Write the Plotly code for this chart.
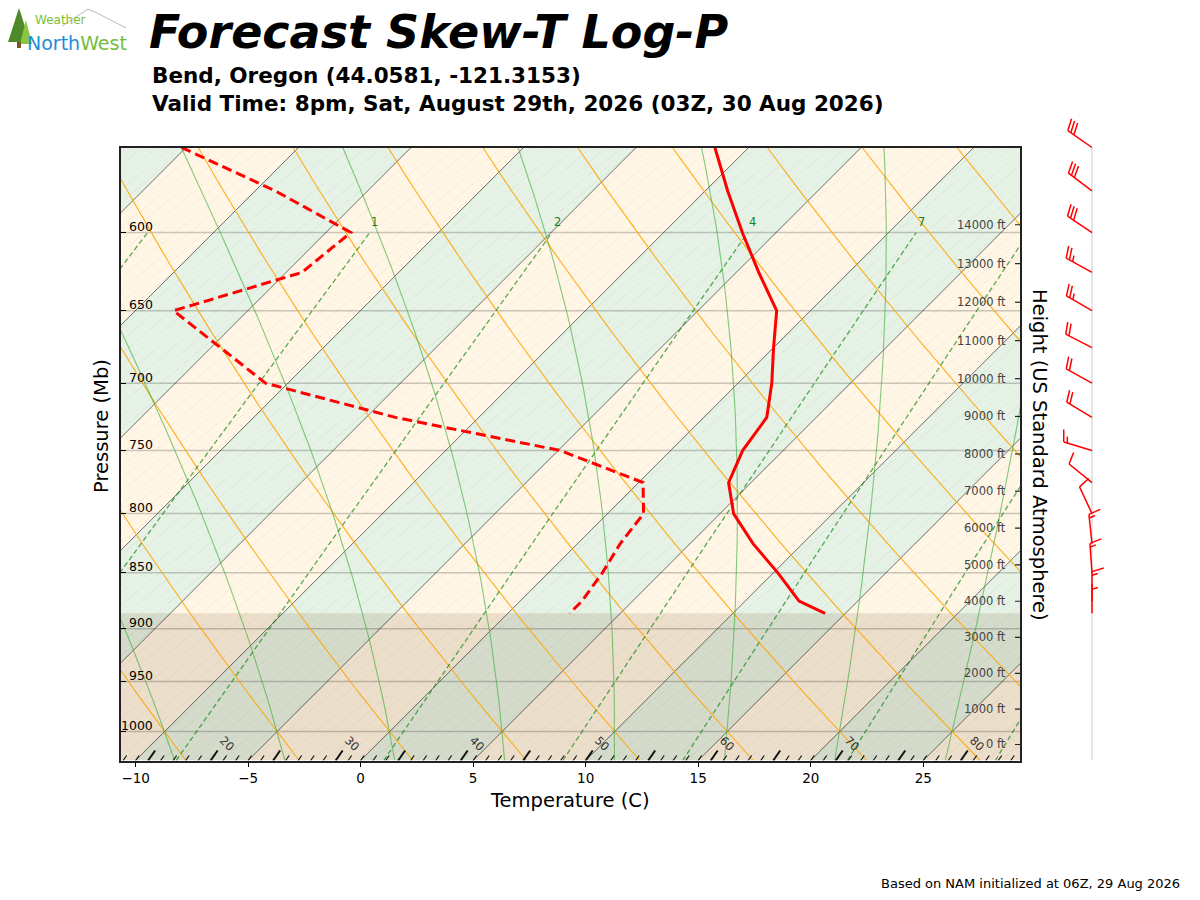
import numpy as np
import plotly.graph_objects as go

PRES = [550, 575, 600, 625, 650, 675, 700, 725, 750, 775, 800, 825, 850, 875, 886]
TEMP = [-11.5, -9.0, -6.5, -4.0, -1.5, 0.0, 1.5, 2.8, 3.2, 4.0, 5.6, 7.8, 10.2, 12.4, 14.1]
DEWP = [-35.2, -29.1, -23.9, -24.3, -28.3, -24.6, -21.0, -13.7, -4.9, 0.2, 1.6, 1.9, 2.4, 2.75, 2.75]
WIND_DIR = [305, 307, 304, 299, 300, 297, 299, 301, 287, 309, 335, 354, 356, 0, 0]
WIND_KT = [30, 30, 30, 25, 25, 20, 20, 20, 15, 10, 10, 15, 15, 15, 5]
SFC_PRES = 886

P_TICKS = [600, 650, 700, 750, 800, 850, 900, 950, 1000]
T_TICKS = [-10, -5, 0, 5, 10, 15, 20, 25]
HEIGHT_FT = list(range(0, 15000, 1000))
MIX_RATIOS = [0.4, 1, 2, 4, 7, 10, 16, 24, 32]   # g/kg
MIX_LABELS = [1, 2, 4, 7]
F_LABELS = [20, 30, 40, 50, 60, 70, 80]

# page geometry (pixels); body margin is removed in the page so these are screen coords
W, H = 1200, 900
PLOT_L, PLOT_R, PLOT_T, PLOT_B = 121, 1020, 147.5, 760.5
XMIN, XMAX = -10.65, 29.3
PB, PT = 1030.0, 550.0
PX_PER_C = (PLOT_R - PLOT_L) / (XMAX - XMIN)
PX_PER_LN = (PLOT_B - PLOT_T) / np.log(PB / PT)
SKEW = PX_PER_LN / PX_PER_C   # 45 degree isotherms
FONT = "DejaVu Sans"


def px(x):
    return x / W


def py(y):
    return 1 - y / H


def skew_x(t, p):
    return np.asarray(t, dtype=float) + SKEW * np.log(PB / np.asarray(p, dtype=float))


def join(segments):
    # list of (xs, ys) -> one trace with gaps
    xs, ys = [], []
    for sx, sy in segments:
        xs += list(sx) + [None]
        ys += list(sy) + [None]
    return xs, ys


def moist_lapse(t0_c, pres):
    # pseudo-adiabat integrated from 1000 mb
    def dtdp(t, p):
        tc = t - 273.15
        es = 6.112 * np.exp(17.67 * tc / (tc + 243.5))
        rs = 0.622 * es / (p - es)
        num = 287.04 * t + 2.501e6 * rs
        den = 1005.7 + (2.501e6 ** 2 * rs * 0.622) / (287.04 * t ** 2)
        return num / den / p

    out = []
    for target in pres:
        t, p = t0_c + 273.15, 1000.0
        n = max(int(abs(target - p) / 2), 1)
        h = (target - p) / n
        for _ in range(n):
            k1 = dtdp(t, p)
            k2 = dtdp(t + h * k1 / 2, p + h / 2)
            k3 = dtdp(t + h * k2 / 2, p + h / 2)
            k4 = dtdp(t + h * k3, p + h)
            t += h * (k1 + 2 * k2 + 2 * k3 + k4) / 6
            p += h
        out.append(t - 273.15)
    return np.array(out)


def mix_dewpoint(w_gkg, p):
    w = w_gkg / 1000.0
    e = p * w / (0.622 + w)
    a = np.log(e / 6.112)
    return 243.5 * a / (17.67 - a)


def std_atm_pres(ft):
    z = ft * 0.3048
    return 1013.25 * (1 - 2.25577e-5 * z) ** 5.25588


def barb_segments(p, wdir, spd, x0=1092.0, length=29.5):
    d = np.deg2rad(wdir)
    ux, uy = np.sin(d), np.cos(d)        # toward the wind source, y up
    fx, fy = uy, -ux                     # feather side
    spacing, height, width = 0.125 * length, 0.4 * length, 0.25 * length
    spd = int(round(spd / 5.0)) * 5
    nfull, nhalf = spd // 10, (spd % 10) // 5
    segs = [[(0, 0), (ux * length, uy * length)]]
    off = length
    for _ in range(nfull):
        segs.append([(ux * off, uy * off),
                     (ux * (off + width / 2) + fx * height, uy * (off + width / 2) + fy * height)])
        off -= spacing
    if nhalf:
        if off == length:
            off -= 1.5 * spacing
        segs.append([(ux * off, uy * off),
                     (ux * (off + width / 4) + fx * height / 2, uy * (off + width / 4) + fy * height / 2)])
    out = []
    for seg in segs:
        out.append(([x0 + a for a, b in seg], [p * np.exp(-b / PX_PER_LN) for a, b in seg]))
    return out


fig = go.Figure()
line_kw = dict(mode="lines", hoverinfo="skip", showlegend=False)

# alternating 5 C bands between isotherms
for t in range(-45, 35, 5):
    color = "rgba(0,128,0,0.1)" if (t // 5) % 2 == 0 else "rgba(255,165,0,0.1)"
    xs = [skew_x(t, PB), skew_x(t + 5, PB), skew_x(t + 5, PT), skew_x(t, PT), skew_x(t, PB)]
    fig.add_trace(go.Scatter(x=xs, y=[PB, PB, PT, PT, PB], fill="toself", fillcolor=color,
                             line=dict(width=0), **line_kw))

# faint hatching
slope = np.tan(np.deg2rad(40))
hatch = []
for c in np.arange(-800, 900, 15):
    hx = [XMIN + c / PX_PER_C, XMIN + (c + (PLOT_B - PLOT_T) / slope) / PX_PER_C]
    hatch.append((hx, [PB, PT]))
hx, hy = join(hatch)
fig.add_trace(go.Scatter(x=hx, y=hy, line=dict(color="rgba(0,0,0,0.06)", width=0.8), **line_kw))

# below ground
fig.add_trace(go.Scatter(x=[XMIN, XMAX, XMAX, XMIN, XMIN], y=[PB, PB, SFC_PRES, SFC_PRES, PB],
                         fill="toself", fillcolor="rgba(120,90,50,0.15)", line=dict(width=0), **line_kw))

# pressure grid
gx, gy = join([([XMIN, XMAX], [p, p]) for p in P_TICKS])
fig.add_trace(go.Scatter(x=gx, y=gy, line=dict(color="rgba(0,0,0,0.2)", width=1.5), **line_kw))

# isotherms
ix, iy = join([([skew_x(t, PB), skew_x(t, PT)], [PB, PT]) for t in range(-45, 35, 5)])
fig.add_trace(go.Scatter(x=ix, y=iy, line=dict(color="rgba(0,0,0,0.55)", width=1), **line_kw))

pgrid = np.geomspace(PB, PT, 60)

# dry adiabats
dry = []
for th in range(-30, 80, 5):
    tt = (th + 273.15) * (pgrid / 1000.0) ** 0.2857 - 273.15
    dry.append((skew_x(tt, pgrid), pgrid))
dx_, dy_ = join(dry)
fig.add_trace(go.Scatter(x=dx_, y=dy_, line=dict(color="rgba(255,165,0,0.9)", width=1.1), **line_kw))

# moist adiabats
moist = []
for t0 in range(-30, 45, 5):
    tt = moist_lapse(t0, pgrid)
    moist.append((skew_x(tt, pgrid), pgrid))
mx, my = join(moist)
fig.add_trace(go.Scatter(x=mx, y=my, line=dict(color="rgba(50,170,50,0.6)", width=1.1), **line_kw))

# mixing ratio lines
pmix = np.geomspace(PB, 600, 30)
mixl = [(skew_x(mix_dewpoint(w, pmix), pmix), pmix) for w in MIX_RATIOS]
wx, wy = join(mixl)
fig.add_trace(go.Scatter(x=wx, y=wy, line=dict(color="rgba(0,128,0,0.65)", width=1.3, dash="5px,3px"),
                         **line_kw))

# Fahrenheit marks along the bottom
small, big = [], []
for f in range(10, 90):
    t = (f - 32) * 5 / 9
    if t < XMIN or t > XMAX:
        continue
    dy = 10 if f % 5 == 0 else 5
    seg = ([t, t + 0.7 * dy / PX_PER_C], [PB, PB * np.exp(-dy / PX_PER_LN)])
    (big if f % 5 == 0 else small).append(seg)
sx_, sy_ = join(small)
bx_, by_ = join(big)
fig.add_trace(go.Scatter(x=sx_, y=sy_, line=dict(color="#111", width=1.2), **line_kw))
fig.add_trace(go.Scatter(x=bx_, y=by_, line=dict(color="#111", width=2), **line_kw))

# right side height ticks
hp = [std_atm_pres(h) for h in HEIGHT_FT]
tx, ty = join([([XMAX - 5 / PX_PER_C, XMAX], [p, p]) for p in hp])
fig.add_trace(go.Scatter(x=tx, y=ty, line=dict(color="#222", width=1.2), **line_kw))

# sounding
fig.add_trace(go.Scatter(x=skew_x(DEWP, PRES), y=PRES, line=dict(color="red", width=3, dash="10px,5px"),
                         **line_kw))
fig.add_trace(go.Scatter(x=skew_x(TEMP, PRES), y=PRES, line=dict(color="red", width=3), **line_kw))

# wind barbs on their own strip
fig.add_trace(go.Scatter(x=[1092, 1092], y=[PB, PT], xaxis="x2", yaxis="y2",
                         line=dict(color="#cccccc", width=1), **line_kw))
barbs = []
for p, d, s in zip(PRES, WIND_DIR, WIND_KT):
    barbs += barb_segments(p, d, s)
wbx, wby = join(barbs)
fig.add_trace(go.Scatter(x=wbx, y=wby, xaxis="x2", yaxis="y2", line=dict(color="red", width=1.5),
                         **line_kw))

annotations = []
# pressure labels inside the left spine
for p in P_TICKS:
    annotations.append(dict(x=px(155), xref="paper", y=np.log10(p), yref="y", text=str(p),
                            xanchor="right", yanchor="middle", yshift=6, showarrow=False,
                            font=dict(family=FONT, size=12.5, color="black")))
# height labels
for h, p in zip(HEIGHT_FT, hp):
    annotations.append(dict(x=px(1008), xref="paper", y=np.log10(p), yref="y", text=f"{h} ft",
                            xanchor="right", yanchor="middle", showarrow=False,
                            font=dict(family=FONT, size=11.5, color="#444")))
# mixing ratio labels
for w in MIX_LABELS:
    annotations.append(dict(x=float(skew_x(mix_dewpoint(w, 600), 600)), y=np.log10(600), text=str(w),
                            xanchor="center", yanchor="middle", xshift=5, yshift=11, showarrow=False,
                            font=dict(family=FONT, size=11.5, color="rgba(0,110,0,0.9)")))
# Fahrenheit labels
for f in F_LABELS:
    t = (f - 32) * 5 / 9
    annotations.append(dict(x=t + 17 / PX_PER_C, y=np.log10(PB * np.exp(-17 / PX_PER_LN)), text=str(f),
                            textangle=45, xanchor="center", yanchor="middle", showarrow=False,
                            font=dict(family=FONT, size=11.5, color="#333")))

text_items = [
    (147, 32, "<b><i>Forecast Skew-T Log-P</i></b>", 46, "left", 0, "black"),
    (150, 75, "<b>Bend, Oregon (44.0581, -121.3153)</b>", 21.5, "left", 0, "black"),
    (150, 104, "<b>Valid Time: 8pm, Sat, August 29th, 2026 (03Z, 30 Aug 2026)</b>", 21.5, "left", 0, "black"),
    (1182, 883, "Based on NAM initialized at 06Z, 29 Aug 2026", 13, "right", 0, "black"),
    (570, 800, "Temperature (C)", 19.5, "center", 0, "black"),
    (101, 426, "Pressure (Mb)", 19.5, "center", -90, "black"),
    (1040, 455, "Height (US Standard Atmosphere)", 19.5, "center", 90, "black"),
    (33, 20, "Weather", 12, "left", 0, "#7cbf3a"),
    (25, 43, "<span style='color:#1f8ed8'>North</span><span style='color:#72bd3b'>West</span>",
     19, "left", 0, "black"),
]
for x, y, txt, size, anchor, ang, col in text_items:
    annotations.append(dict(x=px(x), y=py(y), xref="paper", yref="paper", text=txt, textangle=ang,
                            xanchor=anchor, yanchor="middle", showarrow=False,
                            font=dict(family=FONT, size=size, color=col)))

shapes = [
    dict(type="path", xref="paper", yref="paper", line=dict(color="#bbbbbb", width=1),
         path=f"M {px(62)},{py(26)} L {px(88)},{py(9)} L {px(97)},{py(13)} L {px(126)},{py(28)}"),
    dict(type="path", xref="paper", yref="paper", line=dict(width=0), fillcolor="#4e8a2a",
         path=f"M {px(19)},{py(8)} L {px(8)},{py(42)} L {px(30)},{py(42)} Z"),
    dict(type="path", xref="paper", yref="paper", line=dict(width=0), fillcolor="#8cc63f",
         path=f"M {px(26)},{py(20)} L {px(20)},{py(44)} L {px(32)},{py(44)} Z"),
    dict(type="rect", xref="paper", yref="paper", line=dict(width=0), fillcolor="#7a5230",
         x0=px(17), x1=px(21), y0=py(48), y1=py(42)),
]

PT2 = PT * np.exp(-(PLOT_T - 95) / PX_PER_LN)
fig.update_layout(
    width=W, height=H,
    margin=dict(l=0, r=0, t=0, b=0),
    paper_bgcolor="white", plot_bgcolor="rgba(0,0,0,0)",
    showlegend=False,
    font=dict(family=FONT, color="black"),
    xaxis=dict(domain=[px(PLOT_L), px(PLOT_R)], range=[XMIN, XMAX], tickvals=T_TICKS,
               ticks="outside", ticklen=5, tickwidth=1.2, tickcolor="black",
               tickfont=dict(family=FONT, size=13.5), showgrid=False, zeroline=False,
               showline=True, linecolor="#222", linewidth=1.5, mirror=True, anchor="y"),
    yaxis=dict(domain=[py(PLOT_B), py(PLOT_T)], type="log",
               range=[np.log10(PB), np.log10(PT)], tickvals=P_TICKS, showticklabels=False,
               ticks="inside", ticklen=5, tickwidth=1.2, tickcolor="black", showgrid=False,
               zeroline=False, showline=True, linecolor="#222", linewidth=1.5, mirror=True, anchor="x"),
    xaxis2=dict(domain=[px(1030), px(1120)], range=[1030, 1120], visible=False, anchor="y2"),
    yaxis2=dict(domain=[py(PLOT_B), py(95)], type="log", range=[np.log10(PB), np.log10(PT2)],
                visible=False, anchor="x2"),
    annotations=annotations,
    shapes=shapes,
)

fig.write_html("out.html", config={"displayModeBar": False},
               post_script="document.body.style.margin = '0';")
